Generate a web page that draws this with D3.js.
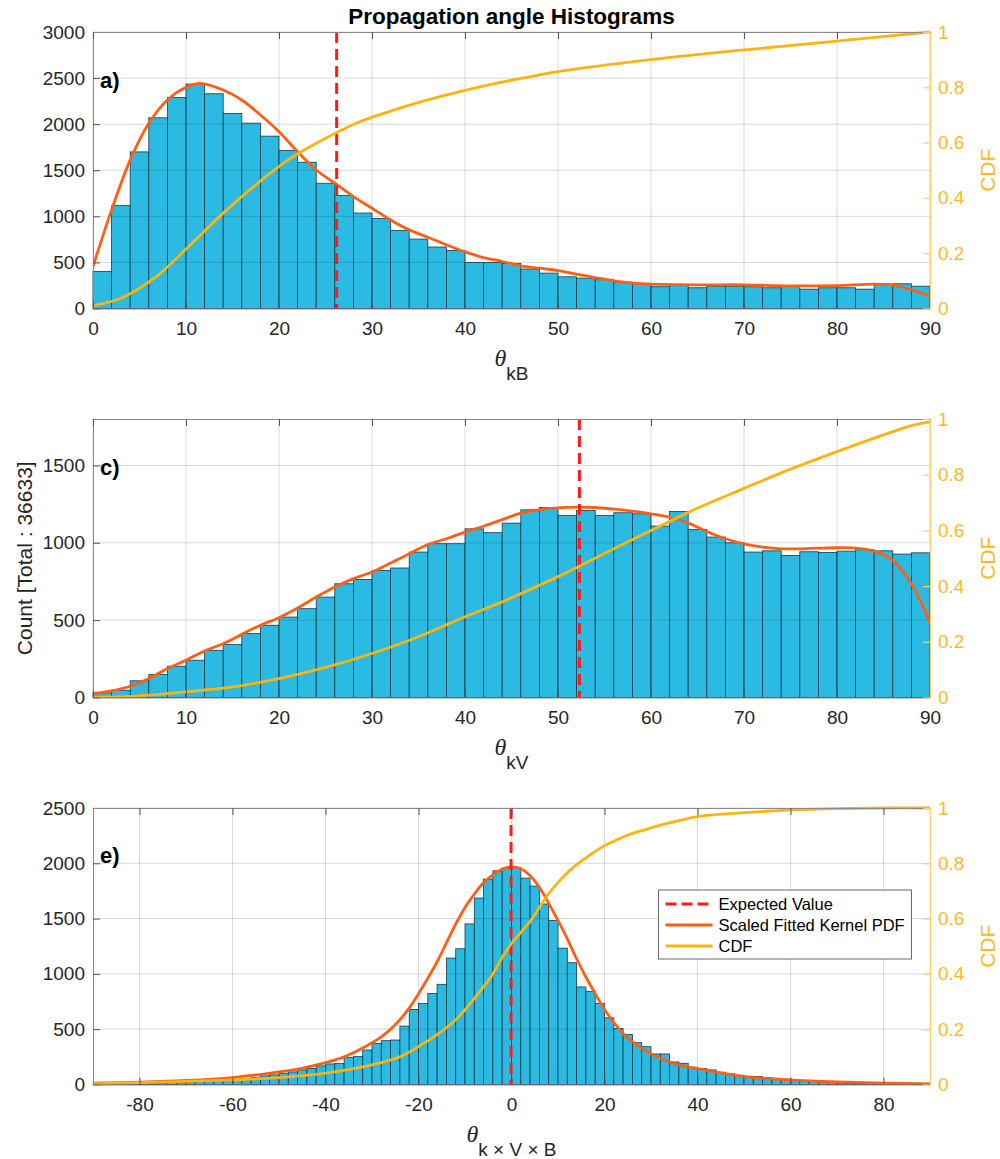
<!DOCTYPE html>
<html><head><meta charset="utf-8">
<script src="https://cdn.jsdelivr.net/npm/d3@7"></script>
<style>
body{margin:0;background:#fff}
svg{display:block}
text{font-family:"Liberation Sans",Arial,Helvetica,sans-serif}
</style>
</head><body>
<svg id="chart" width="1000" height="1159"></svg>
<script>
// ---------------- DATA ----------------
const chartTitle = "Propagation angle Histograms";
const yAxisTitle = "Count [Total : 36633]";
const cdfAxisTitle = "CDF";
const legendLabels = ["Expected Value", "Scaled Fitted Kernel PDF", "CDF"];
const panelLetters = ["a)", "c)", "e)"];
const xLabelSubs = ["kB", "kV", "k \u00d7 V \u00d7 B"];
const binWidth = 2;

// panel a : theta_kB (bins of 2 deg starting at 0)
const binStartKB = 0;
const countsKB = [402,1116,1699,2069,2290,2435,2330,2116,2011,1870,1714,1587,1359,1225,1036,978,848,753,667,630,500,500,490,428,384,344,330,312,286,268,236,250,225,242,242,236,225,242,210,225,225,210,264,268,242];
const pdfKB_x = [0,2,4,6,8,10,11.5,14,16,18,20,22,24,26,28,30,32,34,36,38,40,42,44,46,48,50,52,54,56,58,60,65,70,75,80,84,86,88,90];
const pdfKB_y = [455,1070,1612,2010,2262,2400,2443,2371,2262,2100,1919,1702,1503,1359,1214,1088,961,853,773,690,614,553,510,463,437,412,372,336,300,275,264,257,257,246,249,264,253,202,137];
const cdfKB_x = [0,3.2,6.8,10,14,17.6,21.1,24.7,28.3,31.9,35.5,39.1,42.7,48,50,60,70,80,90];
const cdfKB_y = [0.01,0.04,0.115,0.215,0.345,0.45,0.54,0.61,0.67,0.713,0.75,0.782,0.81,0.845,0.857,0.90,0.935,0.967,1.0];
const expectedKB = 26.2;
const xTicksKB = [0,10,20,30,40,50,60,70,80,90];
const yTicksKB = [0,500,1000,1500,2000,2500,3000];
const yMaxKB = 3000;

// panel c : theta_kV
const binStartKV = 0;
const countsKV = [30,47,108,148,202,241,305,342,413,467,520,574,649,735,763,821,837,940,994,994,1090,1065,1127,1213,1228,1176,1209,1176,1194,1187,1108,1202,1086,1037,1000,940,948,918,942,938,946,955,948,927,935];
const pdfKV_x = [0,2,4,6,8,10,12,14,16,18,20,22,24,26,28,30,32,34,36,38,40,42,44,46,48,50,52,54,56,58,60,62,64,66,68,70,72,74,76,78,80,82,84,86,88,90];
const pdfKV_y = [26,43,73,123,187,241,301,348,408,467,516,578,649,714,768,811,869,929,989,1026,1069,1107,1150,1191,1215,1226,1230,1228,1217,1204,1187,1165,1127,1073,1026,993,972,961,961,965,968,965,946,886,735,482];
const cdfKV_x = [0,5,10,15,20,25,30,35,40,43.6,50,55,60,65,70,75,80,85,88.2,90];
const cdfKV_y = [0,0.006,0.02,0.038,0.068,0.108,0.158,0.218,0.29,0.338,0.434,0.517,0.60,0.68,0.751,0.82,0.883,0.943,0.978,0.99];
const expectedKV = 52.3;
const xTicksKV = [0,10,20,30,40,50,60,70,80,90];
const yTicksKV = [0,500,1000,1500];
const yMaxKV = 1800;

// panel e : theta_kxVxB (bins of 2 deg starting at -90)
const binStartKVB = -90;
const countsKVB = [4,5,7,8,10,12,13,15,18,20,24,27,30,35,40,
  45,54,66,78,87,102,114,132,144,168,186,189,246,252,312,372,396,402,528,678,732,822,906,1143,1227,1452,1686,1857,1932,1956,
  1962,1866,1794,1632,1482,1233,1101,882,843,732,603,507,453,378,342,276,276,204,192,156,144,132,111,96,84,75,72,63,54,45,
  39,33,27,24,18,15,12,10,8,7,5,4,3,2,1];
const pdfKVB_x = [-90,-80,-70,-60,-50,-46,-40,-36,-32,-28,-25,-22,-20,-18,-16,-14,-12,-10,-8,-6,-4,-2,0,2,4,6,8,10,12,14,16,18,20,24,28,32,36,40,50,60,70,80,90];
const pdfKVB_y = [12,21,36,63,114,138,198,250,330,430,540,690,820,960,1110,1280,1450,1600,1722,1827,1896,1947,1968,1950,1887,1782,1638,1482,1317,1137,972,822,678,462,327,237,177,144,72,42,24,12,6];
const cdfKVB_x = [-90,-60,-50,-40,-30,-24,-20,-16,-12,-10,-6,-4,-2,0,4,8,12,16,18,20,22,24,26,28,32,36,40,50,60,70,80,90];
const cdfKVB_y = [0.002,0.017,0.025,0.041,0.071,0.10,0.137,0.18,0.234,0.27,0.354,0.40,0.46,0.51,0.59,0.69,0.766,0.82,0.843,0.864,0.88,0.895,0.908,0.918,0.938,0.954,0.969,0.983,0.993,0.998,1.0,1.0];
const expectedKVB = -0.1;
const xTicksKVB = [-80,-60,-40,-20,0,20,40,60,80];
const yTicksKVB = [0,500,1000,1500,2000,2500];
const yMaxKVB = 2500;

const cdfTicks = [0,0.2,0.4,0.6,0.8,1];

// ---------------- STYLE / LAYOUT ----------------
const colBar = "#2BBAE1", colBarEdge = "#143a4c";
const colPdf = "#FF5F15", colCdf = "#FFB30F", colExp = "#FF1A1A";
const colCdfAxis = "#FFB81C", colText = "#262626";
const L = 93, R = 930;

const panels = [
  {top:32, bottom:308.5, xDomain:[0,90], yMax:yMaxKB, yTicks:yTicksKB, xTicks:xTicksKB, binStart:binStartKB, counts:countsKB,
   pdfX:pdfKB_x, pdfY:pdfKB_y, cdfX:cdfKB_x, cdfY:cdfKB_y, expected:expectedKB, letter:panelLetters[0], sub:xLabelSubs[0]},
  {top:419, bottom:697.5, xDomain:[0,90], yMax:yMaxKV, yTicks:yTicksKV, xTicks:xTicksKV, binStart:binStartKV, counts:countsKV,
   pdfX:pdfKV_x, pdfY:pdfKV_y, cdfX:cdfKV_x, cdfY:cdfKV_y, expected:expectedKV, letter:panelLetters[1], sub:xLabelSubs[1]},
  {top:808, bottom:1084.5, xDomain:[-90,90], yMax:yMaxKVB, yTicks:yTicksKVB, xTicks:xTicksKVB, binStart:binStartKVB, counts:countsKVB,
   pdfX:pdfKVB_x, pdfY:pdfKVB_y, cdfX:cdfKVB_x, cdfY:cdfKVB_y, expected:expectedKVB, letter:panelLetters[2], sub:xLabelSubs[2], legend:true}
];

const svg = d3.select("#chart");
svg.append("rect").attr("width",1000).attr("height",1159).attr("fill","#fff");

svg.append("text").attr("x",(L+R)/2).attr("y",24).attr("text-anchor","middle")
  .attr("font-size",22.5).attr("font-weight","bold").attr("fill","#000").text(chartTitle);

const smooth = d3.curveCatmullRom.alpha(0.5);

panels.forEach((p, pi) => {
  const g = svg.append("g");
  const x = d3.scaleLinear().domain(p.xDomain).range([L, R]);
  const y = d3.scaleLinear().domain([0, p.yMax]).range([p.bottom, p.top]);
  const y2 = d3.scaleLinear().domain([0, 1]).range([p.bottom, p.top]);
  const clipId = "clip" + pi;
  svg.append("clipPath").attr("id", clipId).append("rect")
    .attr("x", L).attr("y", p.top - 2).attr("width", R - L).attr("height", p.bottom - p.top + 2);

  // bars
  const bins = p.counts.map((c, i) => ({x0: p.binStart + i * binWidth, c}));
  g.append("g").selectAll("rect").data(bins).join("rect")
    .attr("x", d => x(d.x0)).attr("y", d => y(d.c))
    .attr("width", d => x(d.x0 + binWidth) - x(d.x0))
    .attr("height", d => y(0) - y(d.c))
    .attr("fill", colBar).attr("stroke", colBarEdge).attr("stroke-width", 0.8);

  // grid
  const grid = g.append("g").attr("stroke", "#262626").attr("stroke-opacity", 0.17).attr("stroke-width", 1);
  grid.selectAll(".vg").data(p.xTicks).join("line")
    .attr("x1", d => x(d)).attr("x2", d => x(d)).attr("y1", p.top).attr("y2", p.bottom);
  grid.selectAll(".hg").data(p.yTicks).join("line")
    .attr("x1", L).attr("x2", R).attr("y1", d => y(d)).attr("y2", d => y(d));

  // PDF curve
  const lineL = d3.line().x(d => x(d[0])).y(d => y(d[1])).curve(smooth);
  g.append("path").datum(p.pdfX.map((v, i) => [v, p.pdfY[i]]))
    .attr("clip-path", `url(#${clipId})`)
    .attr("d", lineL).attr("fill", "none").attr("stroke", colPdf).attr("stroke-width", 2.8);

  // expected value
  g.append("line").attr("x1", x(p.expected)).attr("x2", x(p.expected))
    .attr("y1", p.top).attr("y2", p.bottom)
    .attr("stroke", colExp).attr("stroke-width", 3).attr("stroke-dasharray", "11,6");

  // CDF curve
  const lineR = d3.line().x(d => x(d[0])).y(d => y2(d[1])).curve(smooth);
  g.append("path").datum(p.cdfX.map((v, i) => [v, p.cdfY[i]]))
    .attr("clip-path", `url(#${clipId})`)
    .attr("d", lineR).attr("fill", "none").attr("stroke", colCdf).attr("stroke-width", 2.8);

  // axes
  const ax = g.append("g");
  const fmt = d => String(d);
  const left = ax.append("g").attr("transform", `translate(${L},0)`)
    .call(d3.axisLeft(y).tickValues(p.yTicks).tickSize(-7).tickSizeOuter(0).tickPadding(8).tickFormat(fmt));
  const bottom = ax.append("g").attr("transform", `translate(0,${p.bottom})`)
    .call(d3.axisBottom(x).tickValues(p.xTicks).tickSize(-7).tickSizeOuter(0).tickPadding(13).tickFormat(fmt));
  const topAx = ax.append("g").attr("transform", `translate(0,${p.top})`)
    .call(d3.axisTop(x).tickValues(p.xTicks).tickSize(-7).tickSizeOuter(0).tickFormat(""));
  [left, bottom, topAx].forEach(a => {
    a.attr("font-family", null).attr("font-size", null);
    a.select(".domain").attr("stroke", "#8a8a8a").attr("stroke-width", 1);
    a.selectAll(".tick line").attr("stroke", "#555").attr("stroke-width", 1);
    a.selectAll(".tick text").attr("fill", colText).style("font-size", "19px");
  });
  const right = ax.append("g").attr("transform", `translate(${R},0)`)
    .call(d3.axisRight(y2).tickValues(cdfTicks).tickSize(-7).tickSizeOuter(0).tickPadding(8)
      .tickFormat(d => d === 0 ? "0" : d === 1 ? "1" : d3.format(".1f")(d)));
  right.attr("font-family", null).attr("font-size", null);
  right.select(".domain").attr("stroke", "#FFCF6A").attr("stroke-width", 1.2);
  right.selectAll(".tick line").attr("stroke", "#FFCF6A").attr("stroke-width", 1.2);
  right.selectAll(".tick text").attr("fill", colCdfAxis).style("font-size", "19px");

  // panel letter
  g.append("text").attr("x", 100).attr("y", [80, 467, 855][pi]).attr("dominant-baseline", "central")
    .attr("font-size", 22).attr("font-weight", "bold").attr("fill", "#000").text(p.letter);

  // x label
  const xl = g.append("text").attr("x", (L + R) / 2).attr("y", p.bottom + 57).attr("text-anchor", "middle").attr("fill", colText);
  xl.append("tspan").attr("font-family", "'Liberation Serif','Times New Roman',serif").attr("font-style", "italic")
    .attr("font-size", 24).text("\u03b8");
  xl.append("tspan").attr("dy", 14).attr("font-size", 19).text(p.sub);

  // CDF label
  g.append("text").attr("transform", `translate(995,${(p.top + p.bottom) / 2}) rotate(-90)`)
    .attr("text-anchor", "middle").attr("font-size", 21).attr("fill", colCdfAxis).text(cdfAxisTitle);

  if (pi === 1) {
    g.append("text").attr("transform", `translate(32,${(p.top + p.bottom) / 2}) rotate(-90)`)
      .attr("text-anchor", "middle").attr("font-size", 21).attr("fill", colText).text(yAxisTitle);
  }

  if (p.legend) {
    const lg = g.append("g").attr("transform", "translate(658.5,890)");
    lg.append("rect").attr("width", 253).attr("height", 69).attr("fill", "#fff").attr("stroke", "#6a6a6a").attr("stroke-width", 1);
    const styles = [
      {c: colExp, dash: "11,5"},
      {c: colPdf, dash: null},
      {c: colCdf, dash: null}
    ];
    legendLabels.forEach((t, i) => {
      const yy = 14 + i * 21;
      const ln = lg.append("line").attr("x1", 7).attr("x2", 54).attr("y1", yy).attr("y2", yy)
        .attr("stroke", styles[i].c).attr("stroke-width", 2.8);
      if (styles[i].dash) ln.attr("stroke-dasharray", styles[i].dash);
      lg.append("text").attr("x", 60).attr("y", yy).attr("dominant-baseline", "central")
        .attr("font-size", 16.5).attr("fill", "#000").text(t);
    });
  }
});
</script>
</body></html>
